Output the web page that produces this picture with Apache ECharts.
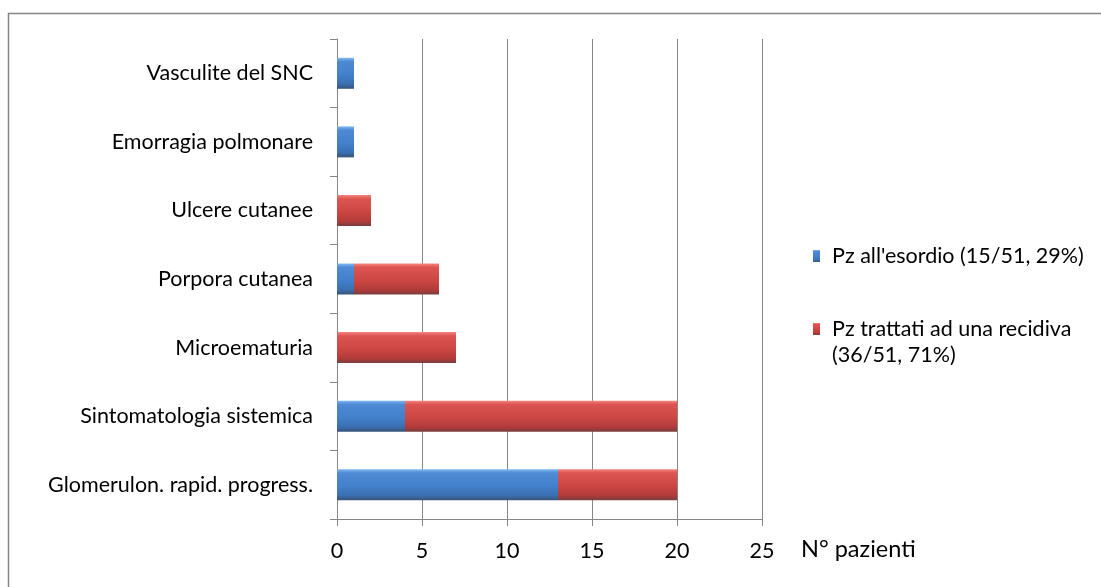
<!DOCTYPE html>
<html>
<head>
<meta charset="utf-8">
<script src="https://cdn.jsdelivr.net/npm/echarts@6/dist/echarts.min.js"></script>
<style>
  html, body { margin: 0; padding: 0; background: #ffffff; }
  #chart { width: 1101px; height: 587px; }
</style>
</head>
<body>
<div id="chart"></div>
<script>
// Manifestations, listed bottom to top on the category axis
const categories = [
  'Glomerulon. rapid. progress.',
  'Sintomatologia sistemica',
  'Microematuria',
  'Porpora cutanea',
  'Ulcere cutanee',
  'Emorragia polmonare',
  'Vasculite del SNC'
];
const seriesNames = [
  "Pz all'esordio (15/51, 29%)",
  'Pz trattati ad una recidiva (36/51, 71%)'
];
const esordio = [13, 4, 0, 1, 0, 1, 1];
const recidiva = [7, 16, 7, 5, 2, 0, 0];
const xTicks = [0, 5, 10, 15, 20, 25];
const axisTitle = 'N° pazienti';

const FONT = 'Lato';
const FS = 21.5;
const grey = '#868686';

function barGradient(stops) {
  return new echarts.graphic.LinearGradient(0, 0, 0, 1,
    stops.map((c, i) => ({ offset: [0, 0.12, 0.55, 0.85, 1][i], color: c })));
}
const blueFill = barGradient(['#82baf3', '#4f8ad4', '#4280cb', '#3b6fb0', '#385379']);
const redFill = barGradient(['#f5857f', '#dc5552', '#cc4643', '#b13b39', '#7a3e3e']);

const chart = echarts.init(document.getElementById('chart'), null, { renderer: 'canvas' });

const legendText = { color: '#000', fontSize: FS, fontFamily: FONT, lineHeight: 26, padding: [0, 0, 0, 7] };

chart.setOption({
  backgroundColor: '#ffffff',
  animation: false,
  textStyle: { fontFamily: FONT },
  grid: { left: 337, right: 339, top: 39, bottom: 68, containLabel: false },
  xAxis: {
    type: 'value',
    min: xTicks[0],
    max: xTicks[xTicks.length - 1],
    interval: xTicks[1] - xTicks[0],
    axisLine: { show: true, lineStyle: { color: grey, width: 1 } },
    axisTick: { show: true, length: 7, lineStyle: { color: grey } },
    splitLine: { show: true, lineStyle: { color: grey, width: 1 } },
    axisLabel: { color: '#000', fontSize: FS, fontFamily: FONT, margin: 21 }
  },
  yAxis: {
    type: 'category',
    data: categories,
    axisLine: { show: true, lineStyle: { color: grey, width: 1 } },
    axisTick: { show: true, length: 7, lineStyle: { color: grey } },
    splitLine: { show: false },
    axisLabel: { color: '#000', fontSize: FS, fontFamily: FONT, margin: 24 }
  },
  legend: [
    {
      data: [seriesNames[0]],
      orient: 'vertical',
      left: 808,
      top: 238,
      itemWidth: 7,
      itemHeight: 12,
      icon: 'rect',
      selectedMode: false,
      textStyle: legendText
    },
    {
      data: [seriesNames[1]],
      orient: 'vertical',
      left: 808,
      top: 285,
      itemWidth: 7,
      itemHeight: 12,
      icon: 'rect',
      selectedMode: false,
      // leading blank line keeps the first line level with the swatch
      formatter: () => '\nPz trattati ad una recidiva\n(36/51, 71%)',
      textStyle: legendText
    }
  ],
  series: [
    {
      name: seriesNames[0],
      type: 'bar',
      stack: 'tot',
      barWidth: 31,
      data: esordio,
      itemStyle: { color: blueFill }
    },
    {
      name: seriesNames[1],
      type: 'bar',
      stack: 'tot',
      barWidth: 31,
      data: recidiva,
      itemStyle: { color: redFill }
    }
  ],
  graphic: [
    {
      type: 'rect',
      shape: { x: 8.5, y: 13.5, width: 1200, height: 700 },
      style: { fill: 'none', stroke: grey, lineWidth: 1.5 },
      silent: true
    },
    {
      type: 'text',
      left: 801,
      top: 537,
      style: { text: axisTitle, fill: '#000', font: '23.5px ' + FONT }
    }
  ]
});
</script>
</body>
</html>
